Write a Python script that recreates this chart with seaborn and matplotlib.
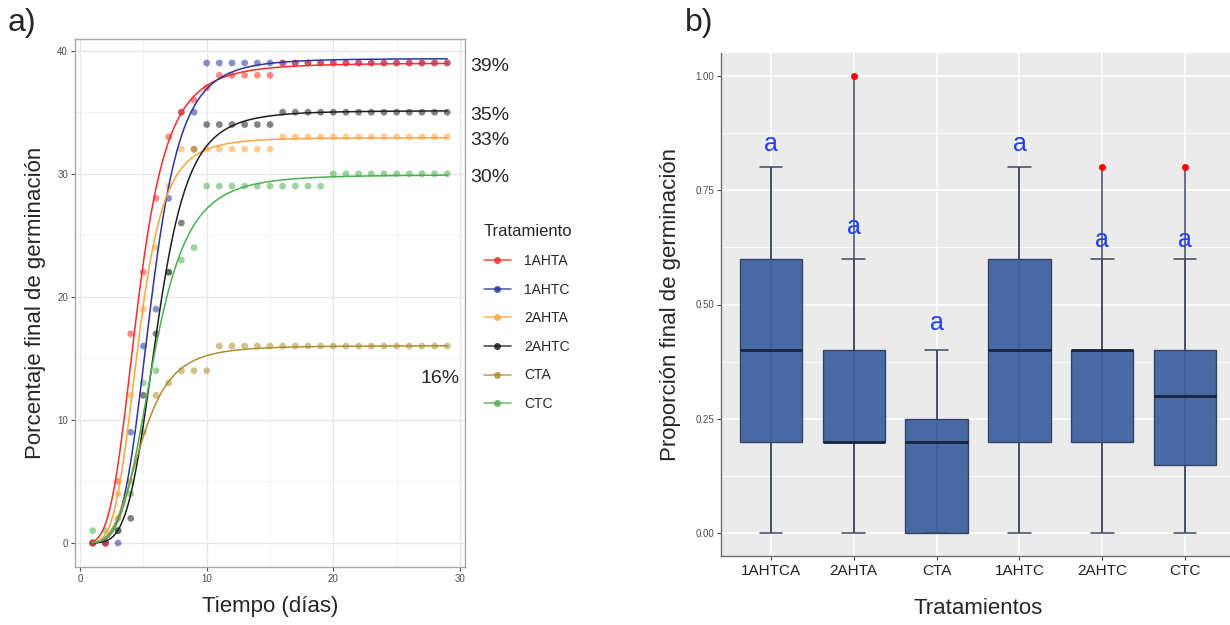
import numpy as np
import pandas as pd
import matplotlib
matplotlib.use("Agg")
import matplotlib.pyplot as plt
from matplotlib.lines import Line2D
from matplotlib.ticker import MultipleLocator
import seaborn as sns

sns.set_theme(style="white")
plt.rcParams["font.family"] = ["Liberation Sans", "DejaVu Sans"]

# --- a) cumulative germination (%) per day ---
days = list(range(1, 30))
g_1AHTA = [0, 0, 5, 17, 22, 28, 33, 35, 36, 37, 38, 38, 38, 38, 38,
           39, 39, 39, 39, 39, 39, 39, 39, 39, 39, 39, 39, 39, 39]
g_1AHTC = [0, 0, 0, 9, 16, 19, 28, 35, 35, 39, 39, 39, 39, 39, 39,
           39, 39, 39, 39, 39, 39, 39, 39, 39, 39, 39, 39, 39, 39]
g_2AHTA = [0, 0, 4, 12, 19, 24, 29, 32, 32, 32, 32, 32, 32, 32, 32,
           33, 33, 33, 33, 33, 33, 33, 33, 33, 33, 33, 33, 33, 33]
g_2AHTC = [0, 0, 1, 2, 12, 17, 22, 26, 32, 34, 34, 34, 34, 34, 34,
           35, 35, 35, 35, 35, 35, 35, 35, 35, 35, 35, 35, 35, 35]
g_CTA = [0, 0, 2, 5, 9, 12, 13, 14, 14, 14, 16, 16, 16, 16, 16,
         16, 16, 16, 16, 16, 16, 16, 16, 16, 16, 16, 16, 16, 16]
g_CTC = [1, 1, 1, 4, 13, 14, 22, 23, 24, 29, 29, 29, 29, 29, 29,
         29, 29, 29, 29, 30, 30, 30, 30, 30, 30, 30, 30, 30, 30]
treatments = ["1AHTA", "1AHTC", "2AHTA", "2AHTC", "CTA", "CTC"]
series = [g_1AHTA, g_1AHTC, g_2AHTA, g_2AHTC, g_CTA, g_CTC]
colors = ["#FF2A2A", "#2B35A0", "#FFA43C", "#1E1E1E", "#AD8F2F", "#4CAF50"]
pct_labels = ["1AHTA", "2AHTC", "2AHTA", "CTC"]   # labelled outside the panel

# --- b) final germination proportion per replicate ---
groups_b = ["1AHTCA", "2AHTA", "CTA", "1AHTC", "2AHTC", "CTC"]
p_1AHTCA = [0, 0.2, 0.2, 0.4, 0.4, 0.4, 0.6, 0.6, 0.8]
p_2AHTA = [0, 0.2, 0.2, 0.2, 0.2, 0.4, 0.4, 0.6, 1.0]
p_CTA = [0, 0, 0, 0.2, 0.2, 0.2, 0.4, 0.4]
p_1AHTC = [0, 0.2, 0.2, 0.4, 0.4, 0.4, 0.6, 0.6, 0.8]
p_2AHTC = [0, 0.2, 0.2, 0.4, 0.4, 0.4, 0.4, 0.6, 0.8]
p_CTC = [0, 0, 0, 0.2, 0.2, 0.2, 0.4, 0.4, 0.4, 0.4, 0.6, 0.8]
letters = ["a", "a", "a", "a", "a", "a"]
letter_y = [0.85, 0.67, 0.46, 0.85, 0.64, 0.64]


def fit_ll3(x, y):
    # three-parameter log-logistic, least squares over a grid
    x = np.asarray(x, float); y = np.asarray(y, float)
    b = np.linspace(1, 15, 281)[:, None, None]
    e = np.linspace(2, 12, 401)[None, :, None]
    g = 1 / (1 + np.exp(-b * (np.log(x) - np.log(e))))
    d = (g * y).sum(-1, keepdims=True) / (g * g).sum(-1, keepdims=True)
    sse = ((y - d * g) ** 2).sum(-1)
    i, j = np.unravel_index(sse.argmin(), sse.shape)
    return b[i, 0, 0], e[0, j, 0], d[i, j, 0]


pts = pd.DataFrame({"dia": np.tile(days, len(treatments)),
                    "germ": np.concatenate(series),
                    "trat": np.repeat(treatments, len(days))})
pts = pts.iloc[::-1]   # red drawn last, as in the original overlap
xs = np.linspace(1, 29, 300)
curves = []
for t, s in zip(treatments, series):
    b, e, d = fit_ll3(days, s)
    curves.append(pd.DataFrame({"dia": xs, "germ": d / (1 + np.exp(-b * (np.log(xs) - np.log(e)))), "trat": t}))
curves = pd.concat(curves)
pal = dict(zip(treatments, colors))

fig = plt.figure(figsize=(12.3, 6.25), dpi=100)
ax = fig.add_axes([75 / 1230, 1 - 567 / 625, 390 / 1230, 528 / 625])

sns.scatterplot(data=pts, x="dia", y="germ", hue="trat", palette=pal, s=24,
                alpha=0.55, linewidth=0, legend=False, ax=ax, zorder=3)
sns.lineplot(data=curves, x="dia", y="germ", hue="trat", palette=pal, lw=1.1,
             legend=False, ax=ax, zorder=4)

ax.set_xlim(-0.4, 30.4)
ax.set_ylim(-1.95, 40.95)
ax.xaxis.set_major_locator(MultipleLocator(10)); ax.xaxis.set_minor_locator(MultipleLocator(5))
ax.yaxis.set_major_locator(MultipleLocator(10)); ax.yaxis.set_minor_locator(MultipleLocator(5))
ax.grid(True, which="major", color="#e6e6e6", lw=0.9)
ax.grid(True, which="minor", color="#f1f1f1", lw=0.6)
ax.set_axisbelow(True)
for sp in ax.spines.values():
    sp.set_color("#a8a8a8"); sp.set_linewidth(1)
ax.tick_params(axis="both", which="major", labelsize=7, colors="#4d4d4d", length=3, width=0.8,
               left=True, bottom=True, pad=2)
ax.set_xlabel("Tiempo (días)", fontsize=16, labelpad=9)
ax.set_ylabel("Porcentaje final de germinación", fontsize=16, labelpad=8)

for t, s in zip(treatments, series):
    if t in pct_labels:
        ax.text(30.8, s[-1] - 0.3, f"{s[-1]}%", fontsize=14, va="center", ha="left", clip_on=False)
ax.text(28.4, g_CTA[-1] - 2.6, f"{g_CTA[-1]}%", fontsize=14, va="center", ha="center")

handles = [Line2D([0], [0], color=c, lw=1.1, marker="o", markersize=5,
                  markerfacecolor=c, markeredgewidth=0, alpha=0.85) for c in colors]
fig.legend(handles, treatments, title="Tratamiento", loc="upper left",
           bbox_to_anchor=(471 / 1230, 1 - 212 / 625), frameon=False, fontsize=10,
           title_fontsize=12, handlelength=2.0, labelspacing=1.05, handletextpad=0.9,
           alignment="left")

# --- b) boxplot ---
vals_b = [p_1AHTCA, p_2AHTA, p_CTA, p_1AHTC, p_2AHTC, p_CTC]
box_df = pd.DataFrame({"trat": np.repeat(groups_b, [len(v) for v in vals_b]),
                       "prop": np.concatenate(vals_b)})
ax2 = fig.add_axes([721 / 1230, 1 - 556 / 625, 514 / 1230, 503 / 625])
ax2.set_facecolor("#EBEBEB")
ax2.vlines(range(len(groups_b)), [min(v) for v in vals_b], [max(v) for v in vals_b],
           color="#3c4a63", lw=1.1, zorder=1)
sns.boxplot(data=box_df, x="trat", y="prop", order=groups_b, color="#3C5F9F", saturation=1,
            width=0.75, linecolor="#2d3c5a", linewidth=1.0, whis=1.5, ax=ax2,
            capwidths=0.27,
            boxprops=dict(alpha=0.93, zorder=2),
            medianprops=dict(color="#18233d", lw=2),
            whiskerprops=dict(color="#3c4a63", lw=1.1),
            capprops=dict(color="#3c4a63", lw=1.1),
            flierprops=dict(marker="o", markerfacecolor="red", markeredgecolor="red", markersize=4))
for i, (l, y) in enumerate(zip(letters, letter_y)):
    ax2.text(i, y, l, color="#1f3dff", fontsize=18, ha="center", va="center")

ax2.set_xlim(-0.6, 5.6)
ax2.set_ylim(-0.05, 1.05)
ax2.yaxis.set_major_locator(MultipleLocator(0.25))
ax2.yaxis.set_minor_locator(MultipleLocator(0.125))
ax2.yaxis.set_major_formatter(matplotlib.ticker.FormatStrFormatter("%.2f"))
ax2.grid(True, which="major", color="white", lw=1.1)
ax2.grid(True, which="minor", axis="y", color="white", lw=0.55)
ax2.set_axisbelow(True)
for side in ["top", "right"]:
    ax2.spines[side].set_visible(False)
for side in ["left", "bottom"]:
    ax2.spines[side].set_color("#6e6e6e"); ax2.spines[side].set_linewidth(1)
ax2.tick_params(axis="y", labelsize=7, colors="#4d4d4d", length=3, width=0.8, left=True, pad=2)
ax2.tick_params(axis="x", labelsize=11, colors="#4d4d4d", length=3, width=0.8, bottom=True, pad=3)
for lab in ax2.get_xticklabels():
    lab.set_color("#222222")
ax2.set_xlabel("Tratamientos", fontsize=16, labelpad=14)
ax2.set_ylabel("Proporción final de germinación", fontsize=16, labelpad=10)

fig.text(8 / 1230, 1 - 23 / 625, "a)", fontsize=23, va="center", ha="left")
fig.text(685 / 1230, 1 - 23 / 625, "b)", fontsize=23, va="center", ha="left")

fig.savefig("out.png", dpi=100)
